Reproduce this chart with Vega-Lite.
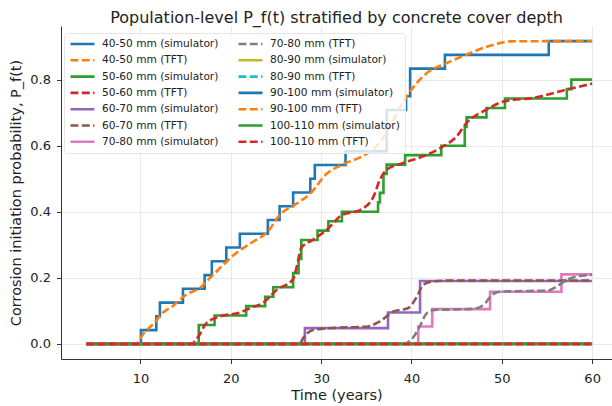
{
 "$schema": "https://vega.github.io/schema/vega-lite/v6.json",
 "width": 551, "height": 333,
 "autosize": {"type": "none"},
 "padding": {"left": 61, "top": 26, "right": 0, "bottom": 47},
 "background": "white",
 "title": {"text": "Population-level P_f(t) stratified by concrete cover depth", "fontSize": 16, "font": "DejaVu Sans", "fontWeight": "normal", "color": "#222222", "anchor": "middle", "frame": "group", "offset": 4, "dy": 17, "baseline": "alphabetic"},
 "config": {
  "font": "DejaVu Sans",
  "view": {"stroke": null},
  "axis": {"domainColor": "#333333", "domainWidth": 1, "tickColor": "#333333", "tickSize": 4.5, "tickWidth": 1, "labelFontSize": 13, "labelColor": "#222222", "labelFont": "DejaVu Sans", "titleFont": "DejaVu Sans", "titleFontSize": 14.5, "titleFontWeight": "normal", "titleColor": "#222222", "gridColor": "#e3e3e3", "gridWidth": 0.8, "grid": true}
 },
 "data": {"values": [
  {"s":"40-50 mm (simulator)","k":"sim","t":4,"p":0},
  {"s":"40-50 mm (simulator)","k":"sim","t":10.05,"p":0.0417},
  {"s":"40-50 mm (simulator)","k":"sim","t":11.75,"p":0.0833},
  {"s":"40-50 mm (simulator)","k":"sim","t":12.15,"p":0.125},
  {"s":"40-50 mm (simulator)","k":"sim","t":14.7,"p":0.1667},
  {"s":"40-50 mm (simulator)","k":"sim","t":17.1,"p":0.2083},
  {"s":"40-50 mm (simulator)","k":"sim","t":17.9,"p":0.25},
  {"s":"40-50 mm (simulator)","k":"sim","t":19.5,"p":0.2917},
  {"s":"40-50 mm (simulator)","k":"sim","t":21.0,"p":0.3333},
  {"s":"40-50 mm (simulator)","k":"sim","t":24.1,"p":0.375},
  {"s":"40-50 mm (simulator)","k":"sim","t":25.4,"p":0.4167},
  {"s":"40-50 mm (simulator)","k":"sim","t":26.9,"p":0.4583},
  {"s":"40-50 mm (simulator)","k":"sim","t":28.8,"p":0.5},
  {"s":"40-50 mm (simulator)","k":"sim","t":29.3,"p":0.5417},
  {"s":"40-50 mm (simulator)","k":"sim","t":32.7,"p":0.5833},
  {"s":"40-50 mm (simulator)","k":"sim","t":37.25,"p":0.7083},
  {"s":"40-50 mm (simulator)","k":"sim","t":39.4,"p":0.75},
  {"s":"40-50 mm (simulator)","k":"sim","t":39.85,"p":0.8333},
  {"s":"40-50 mm (simulator)","k":"sim","t":43.7,"p":0.875},
  {"s":"40-50 mm (simulator)","k":"sim","t":55.2,"p":0.9167},
  {"s":"40-50 mm (simulator)","k":"sim","t":60,"p":0.9167},

  {"s":"40-50 mm (TFT)","k":"tft","t":4,"p":0},
  {"s":"40-50 mm (TFT)","k":"tft","t":9.5,"p":0},
  {"s":"40-50 mm (TFT)","k":"tft","t":10.3,"p":0.03},
  {"s":"40-50 mm (TFT)","k":"tft","t":11.4,"p":0.06},
  {"s":"40-50 mm (TFT)","k":"tft","t":12.5,"p":0.095},
  {"s":"40-50 mm (TFT)","k":"tft","t":13.6,"p":0.115},
  {"s":"40-50 mm (TFT)","k":"tft","t":15.1,"p":0.15},
  {"s":"40-50 mm (TFT)","k":"tft","t":16.6,"p":0.17},
  {"s":"40-50 mm (TFT)","k":"tft","t":17.7,"p":0.2},
  {"s":"40-50 mm (TFT)","k":"tft","t":19.2,"p":0.24},
  {"s":"40-50 mm (TFT)","k":"tft","t":20.6,"p":0.275},
  {"s":"40-50 mm (TFT)","k":"tft","t":22.5,"p":0.31},
  {"s":"40-50 mm (TFT)","k":"tft","t":24.1,"p":0.34},
  {"s":"40-50 mm (TFT)","k":"tft","t":25.4,"p":0.39},
  {"s":"40-50 mm (TFT)","k":"tft","t":27.3,"p":0.425},
  {"s":"40-50 mm (TFT)","k":"tft","t":28.8,"p":0.455},
  {"s":"40-50 mm (TFT)","k":"tft","t":30.6,"p":0.515},
  {"s":"40-50 mm (TFT)","k":"tft","t":32.1,"p":0.54},
  {"s":"40-50 mm (TFT)","k":"tft","t":34.7,"p":0.57},
  {"s":"40-50 mm (TFT)","k":"tft","t":35.8,"p":0.59},
  {"s":"40-50 mm (TFT)","k":"tft","t":37.25,"p":0.64},
  {"s":"40-50 mm (TFT)","k":"tft","t":38.7,"p":0.715},
  {"s":"40-50 mm (TFT)","k":"tft","t":39.6,"p":0.755},
  {"s":"40-50 mm (TFT)","k":"tft","t":40.6,"p":0.79},
  {"s":"40-50 mm (TFT)","k":"tft","t":41.7,"p":0.82},
  {"s":"40-50 mm (TFT)","k":"tft","t":43.9,"p":0.85},
  {"s":"40-50 mm (TFT)","k":"tft","t":46.1,"p":0.876},
  {"s":"40-50 mm (TFT)","k":"tft","t":49.1,"p":0.906},
  {"s":"40-50 mm (TFT)","k":"tft","t":51,"p":0.916},
  {"s":"40-50 mm (TFT)","k":"tft","t":60,"p":0.917},

  {"s":"50-60 mm (simulator)","k":"sim","t":4,"p":0},
  {"s":"50-60 mm (simulator)","k":"sim","t":16.45,"p":0.0571},
  {"s":"50-60 mm (simulator)","k":"sim","t":18.2,"p":0.0857},
  {"s":"50-60 mm (simulator)","k":"sim","t":21.7,"p":0.1143},
  {"s":"50-60 mm (simulator)","k":"sim","t":23.8,"p":0.1429},
  {"s":"50-60 mm (simulator)","k":"sim","t":24.7,"p":0.1714},
  {"s":"50-60 mm (simulator)","k":"sim","t":26.9,"p":0.2143},
  {"s":"50-60 mm (simulator)","k":"sim","t":27.5,"p":0.2571},
  {"s":"50-60 mm (simulator)","k":"sim","t":27.8,"p":0.3143},
  {"s":"50-60 mm (simulator)","k":"sim","t":29.6,"p":0.3429},
  {"s":"50-60 mm (simulator)","k":"sim","t":30.8,"p":0.3714},
  {"s":"50-60 mm (simulator)","k":"sim","t":32.3,"p":0.4},
  {"s":"50-60 mm (simulator)","k":"sim","t":36.3,"p":0.4286},
  {"s":"50-60 mm (simulator)","k":"sim","t":36.5,"p":0.4571},
  {"s":"50-60 mm (simulator)","k":"sim","t":36.9,"p":0.5143},
  {"s":"50-60 mm (simulator)","k":"sim","t":37.25,"p":0.5429},
  {"s":"50-60 mm (simulator)","k":"sim","t":39.3,"p":0.5714},
  {"s":"50-60 mm (simulator)","k":"sim","t":43.3,"p":0.6},
  {"s":"50-60 mm (simulator)","k":"sim","t":45.9,"p":0.6571},
  {"s":"50-60 mm (simulator)","k":"sim","t":46.1,"p":0.6857},
  {"s":"50-60 mm (simulator)","k":"sim","t":48.3,"p":0.7143},
  {"s":"50-60 mm (simulator)","k":"sim","t":50.35,"p":0.7429},
  {"s":"50-60 mm (simulator)","k":"sim","t":57.2,"p":0.7714},
  {"s":"50-60 mm (simulator)","k":"sim","t":57.7,"p":0.8},
  {"s":"50-60 mm (simulator)","k":"sim","t":60,"p":0.8},

  {"s":"50-60 mm (TFT)","k":"tft","t":4,"p":0},
  {"s":"50-60 mm (TFT)","k":"tft","t":15.6,"p":0},
  {"s":"50-60 mm (TFT)","k":"tft","t":16.4,"p":0.022},
  {"s":"50-60 mm (TFT)","k":"tft","t":17.3,"p":0.063},
  {"s":"50-60 mm (TFT)","k":"tft","t":18.8,"p":0.083},
  {"s":"50-60 mm (TFT)","k":"tft","t":21,"p":0.095},
  {"s":"50-60 mm (TFT)","k":"tft","t":22.1,"p":0.108},
  {"s":"50-60 mm (TFT)","k":"tft","t":23.6,"p":0.125},
  {"s":"50-60 mm (TFT)","k":"tft","t":25.1,"p":0.164},
  {"s":"50-60 mm (TFT)","k":"tft","t":26.9,"p":0.196},
  {"s":"50-60 mm (TFT)","k":"tft","t":27.3,"p":0.234},
  {"s":"50-60 mm (TFT)","k":"tft","t":27.8,"p":0.29},
  {"s":"50-60 mm (TFT)","k":"tft","t":29.1,"p":0.315},
  {"s":"50-60 mm (TFT)","k":"tft","t":30.6,"p":0.345},
  {"s":"50-60 mm (TFT)","k":"tft","t":32.3,"p":0.39},
  {"s":"50-60 mm (TFT)","k":"tft","t":34.3,"p":0.405},
  {"s":"50-60 mm (TFT)","k":"tft","t":35.8,"p":0.446},
  {"s":"50-60 mm (TFT)","k":"tft","t":36.5,"p":0.497},
  {"s":"50-60 mm (TFT)","k":"tft","t":37.25,"p":0.527},
  {"s":"50-60 mm (TFT)","k":"tft","t":39.1,"p":0.548},
  {"s":"50-60 mm (TFT)","k":"tft","t":41.3,"p":0.568},
  {"s":"50-60 mm (TFT)","k":"tft","t":43.5,"p":0.598},
  {"s":"50-60 mm (TFT)","k":"tft","t":45,"p":0.628},
  {"s":"50-60 mm (TFT)","k":"tft","t":46.1,"p":0.669},
  {"s":"50-60 mm (TFT)","k":"tft","t":48.3,"p":0.709},
  {"s":"50-60 mm (TFT)","k":"tft","t":50.2,"p":0.734},
  {"s":"50-60 mm (TFT)","k":"tft","t":53.5,"p":0.745},
  {"s":"50-60 mm (TFT)","k":"tft","t":57.2,"p":0.77},
  {"s":"50-60 mm (TFT)","k":"tft","t":60,"p":0.788},

  {"s":"60-70 mm (simulator)","k":"sim","t":4,"p":0},
  {"s":"60-70 mm (simulator)","k":"sim","t":28.2,"p":0.0476},
  {"s":"60-70 mm (simulator)","k":"sim","t":37.4,"p":0.0952},
  {"s":"60-70 mm (simulator)","k":"sim","t":40.95,"p":0.1905},
  {"s":"60-70 mm (simulator)","k":"sim","t":60,"p":0.1905},

  {"s":"60-70 mm (TFT)","k":"tft","t":4,"p":0},
  {"s":"60-70 mm (TFT)","k":"tft","t":27.6,"p":0},
  {"s":"60-70 mm (TFT)","k":"tft","t":28,"p":0.017},
  {"s":"60-70 mm (TFT)","k":"tft","t":29.1,"p":0.042},
  {"s":"60-70 mm (TFT)","k":"tft","t":31.7,"p":0.049},
  {"s":"60-70 mm (TFT)","k":"tft","t":35,"p":0.052},
  {"s":"60-70 mm (TFT)","k":"tft","t":36.5,"p":0.068},
  {"s":"60-70 mm (TFT)","k":"tft","t":38,"p":0.098},
  {"s":"60-70 mm (TFT)","k":"tft","t":39.6,"p":0.108},
  {"s":"60-70 mm (TFT)","k":"tft","t":40.6,"p":0.143},
  {"s":"60-70 mm (TFT)","k":"tft","t":41.3,"p":0.179},
  {"s":"60-70 mm (TFT)","k":"tft","t":42.4,"p":0.189},
  {"s":"60-70 mm (TFT)","k":"tft","t":44.3,"p":0.192},
  {"s":"60-70 mm (TFT)","k":"tft","t":60,"p":0.192},

  {"s":"70-80 mm (simulator)","k":"sim","t":4,"p":0},
  {"s":"70-80 mm (simulator)","k":"sim","t":40.75,"p":0.0526},
  {"s":"70-80 mm (simulator)","k":"sim","t":42.3,"p":0.1053},
  {"s":"70-80 mm (simulator)","k":"sim","t":48.7,"p":0.1579},
  {"s":"70-80 mm (simulator)","k":"sim","t":56.6,"p":0.2105},
  {"s":"70-80 mm (simulator)","k":"sim","t":60,"p":0.2105},

  {"s":"70-80 mm (TFT)","k":"tft","t":4,"p":0},
  {"s":"70-80 mm (TFT)","k":"tft","t":39.1,"p":0},
  {"s":"70-80 mm (TFT)","k":"tft","t":40.2,"p":0.02},
  {"s":"70-80 mm (TFT)","k":"tft","t":40.9,"p":0.052},
  {"s":"70-80 mm (TFT)","k":"tft","t":41.7,"p":0.093},
  {"s":"70-80 mm (TFT)","k":"tft","t":42.6,"p":0.103},
  {"s":"70-80 mm (TFT)","k":"tft","t":44.3,"p":0.104},
  {"s":"70-80 mm (TFT)","k":"tft","t":46.8,"p":0.106},
  {"s":"70-80 mm (TFT)","k":"tft","t":48,"p":0.118},
  {"s":"70-80 mm (TFT)","k":"tft","t":48.9,"p":0.148},
  {"s":"70-80 mm (TFT)","k":"tft","t":49.8,"p":0.158},
  {"s":"70-80 mm (TFT)","k":"tft","t":55.2,"p":0.162},
  {"s":"70-80 mm (TFT)","k":"tft","t":56.1,"p":0.174},
  {"s":"70-80 mm (TFT)","k":"tft","t":57.2,"p":0.194},
  {"s":"70-80 mm (TFT)","k":"tft","t":58.3,"p":0.204},
  {"s":"70-80 mm (TFT)","k":"tft","t":60,"p":0.209},

  {"s":"80-90 mm (simulator)","k":"sim","t":4,"p":0},
  {"s":"80-90 mm (simulator)","k":"sim","t":60,"p":0},
  {"s":"80-90 mm (TFT)","k":"tft","t":4,"p":0},
  {"s":"80-90 mm (TFT)","k":"tft","t":60,"p":0},
  {"s":"90-100 mm (simulator)","k":"sim","t":4,"p":0},
  {"s":"90-100 mm (simulator)","k":"sim","t":60,"p":0},
  {"s":"90-100 mm (TFT)","k":"tft","t":4,"p":0},
  {"s":"90-100 mm (TFT)","k":"tft","t":60,"p":0},
  {"s":"100-110 mm (simulator)","k":"sim","t":4,"p":0},
  {"s":"100-110 mm (simulator)","k":"sim","t":60,"p":0},
  {"s":"100-110 mm (TFT)","k":"tft","t":4,"p":0},
  {"s":"100-110 mm (TFT)","k":"tft","t":60,"p":0}
 ]},
 "encoding": {
  "x": {"field": "t", "type": "quantitative", "scale": {"domain": [1.2, 62.2], "nice": false, "zero": false}, "axis": {"title": "Time (years)", "values": [10, 20, 30, 40, 50, 60], "format": "d", "labelPadding": 9, "titlePadding": 3}},
  "y": {"field": "p", "type": "quantitative", "scale": {"domain": [-0.0458, 0.9625], "nice": false, "zero": false}, "axis": {"title": "Corrosion initiation probability, P_f(t)", "values": [0, 0.2, 0.4, 0.6, 0.8], "format": ".1f", "labelPadding": 6, "titlePadding": 6}},
  "color": {"field": "s", "type": "nominal",
   "scale": {"domain": ["40-50 mm (simulator)", "40-50 mm (TFT)", "50-60 mm (simulator)", "50-60 mm (TFT)", "60-70 mm (simulator)", "60-70 mm (TFT)", "70-80 mm (simulator)", "70-80 mm (TFT)", "80-90 mm (simulator)", "80-90 mm (TFT)", "90-100 mm (simulator)", "90-100 mm (TFT)", "100-110 mm (simulator)", "100-110 mm (TFT)"],
    "range": ["#1f77b4", "#ff7f0e", "#2ca02c", "#d62728", "#9467bd", "#8c564b", "#e377c2", "#7f7f7f", "#bcbd22", "#17becf", "#1f77b4", "#ff7f0e", "#2ca02c", "#d62728"]},
   "legend": {"title": null, "orient": "none", "legendX": 3, "legendY": 7, "columns": 2, "direction": "vertical", "symbolType": "stroke", "symbolSize": 576, "symbolStrokeWidth": 2.6, "labelFontSize": 10.6, "labelFont": "DejaVu Sans", "labelColor": "#222222", "labelOffset": 6, "rowPadding": 4.3, "columnPadding": 18, "clipHeight": 12, "padding": 5, "fillColor": "rgba(255,255,255,0.8)", "strokeColor": "#e6e6e6", "cornerRadius": 3, "labelLimit": 300}},
  "strokeDash": {"field": "s", "type": "nominal",
   "scale": {"domain": ["40-50 mm (simulator)", "40-50 mm (TFT)", "50-60 mm (simulator)", "50-60 mm (TFT)", "60-70 mm (simulator)", "60-70 mm (TFT)", "70-80 mm (simulator)", "70-80 mm (TFT)", "80-90 mm (simulator)", "80-90 mm (TFT)", "90-100 mm (simulator)", "90-100 mm (TFT)", "100-110 mm (simulator)", "100-110 mm (TFT)"],
    "range": [[1, 0], [7.9, 3.4], [1, 0], [7.9, 3.4], [1, 0], [7.9, 3.4], [1, 0], [7.9, 3.4], [1, 0], [7.9, 3.4], [1, 0], [7.9, 3.4], [1, 0], [7.9, 3.4]]},
   "legend": {"title": null, "orient": "none", "legendX": 3, "legendY": 7, "columns": 2, "direction": "vertical", "symbolType": "stroke", "symbolSize": 576, "symbolStrokeWidth": 2.6, "labelFontSize": 10.6, "labelFont": "DejaVu Sans", "labelColor": "#222222", "labelOffset": 6, "rowPadding": 4.3, "columnPadding": 18, "clipHeight": 12, "padding": 5, "fillColor": "rgba(255,255,255,0.8)", "strokeColor": "#e6e6e6", "cornerRadius": 3, "labelLimit": 300}}
 },
 "layer": [
  {"transform": [{"filter": "datum.k == 'sim'"}], "mark": {"type": "line", "interpolate": "step-after", "strokeWidth": 2.6}},
  {"transform": [{"filter": "datum.k == 'tft'"}], "mark": {"type": "line", "interpolate": "monotone", "strokeWidth": 2.6}}
 ]
}
